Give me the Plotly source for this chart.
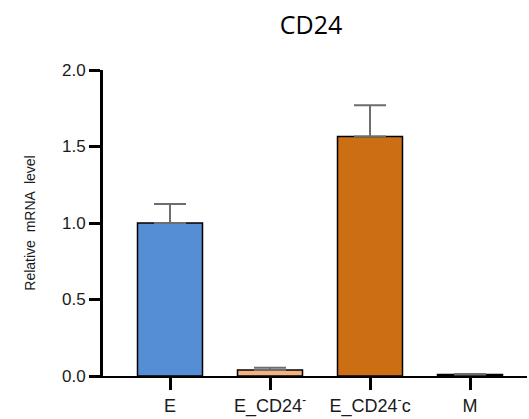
import plotly.graph_objects as go

categories = ["E", "E_CD24<sup>-</sup>", "E_CD24<sup>-</sup>c", "M"]
values = [1.0, 0.039, 1.565, 0.01]
errors = [0.125, 0.015, 0.205, 0.003]
colors = ["#558ed5", "#f4b183", "#cc6e14", "#7f7f7f"]
yticks = [0.0, 0.5, 1.0, 1.5, 2.0]

W, H = 529, 419

fig = go.Figure()
fig.add_trace(go.Bar(
    x=categories, y=values, width=0.65,
    marker=dict(color=colors, line=dict(color="black", width=1.5)),
    error_y=dict(type="data", symmetric=False, array=errors,
                 arrayminus=[0] * len(errors), color="#6d6d6d",
                 thickness=2, width=16),
))
fig.update_layout(
    width=W, height=H,
    margin=dict(l=103, r=2, t=70, b=39),
    plot_bgcolor="white", paper_bgcolor="white",
    showlegend=False,
    title=dict(text="CD24", x=311 / W, xanchor="center", y=1 - 25 / H, yanchor="middle",
               font=dict(family="Open Sans", size=25, color="black")),
    font=dict(family="Liberation Sans, Arial", color="#1a1a1a"),
)
fig.update_xaxes(
    range=[-0.67, 3.57], showline=True, linecolor="black", linewidth=2,
    ticks="outside", ticklen=12, tickwidth=3, tickcolor="black",
    tickfont=dict(size=18, family="Liberation Sans, Arial", color="#1a1a1a"),
    showgrid=False, zeroline=False,
)
fig.update_yaxes(
    range=[0, 2], tickvals=yticks, ticktext=[f"{v:.1f}" for v in yticks],
    showline=True, linecolor="black", linewidth=3,
    ticks="outside", ticklen=11, tickwidth=3, tickcolor="black",
    tickfont=dict(size=17, family="Liberation Sans, Arial", color="#1a1a1a"),
    title=dict(text="Relative  mRNA  level", standoff=24,
               font=dict(size=14, family="Liberation Sans, Arial", color="#1a1a1a")),
    showgrid=False, zeroline=False,
)
fig.write_html(
    "out.html",
    config={"displayModeBar": False},
    post_script="document.body.style.margin='0';document.body.style.overflow='hidden';",
)
